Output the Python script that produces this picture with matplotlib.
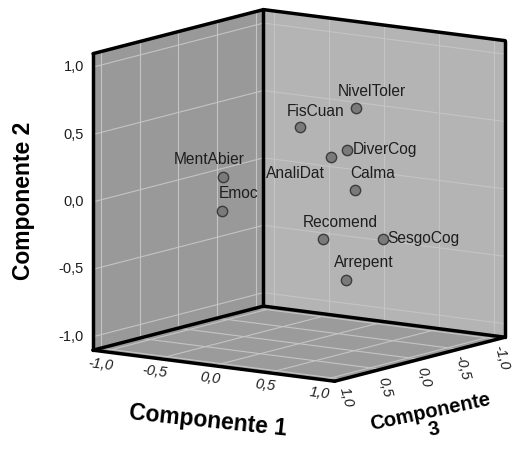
import matplotlib
matplotlib.use("Agg")
import matplotlib.pyplot as plt
import numpy as np
from mpl_toolkits.mplot3d import proj3d
from mpl_toolkits.mplot3d.art3d import Poly3DCollection

plt.rcParams['font.family'] = ['Liberation Sans', 'DejaVu Sans']

# component loadings (C3 estimated)
labels = ["NivelToler", "FisCuan", "DiverCog", "AnaliDat", "Calma",
          "Recomend", "SesgoCog", "Arrepent", "MentAbier", "Emoc"]
comp1 = [0.45, 0.08, 0.58, 0.50, 0.37, 0.29, 0.55, 0.43, -0.16, -0.21]
comp2 = [0.68, 0.53, 0.43, 0.38, 0.05, -0.28, -0.31, -0.58, 0.23, -0.03]
comp3 = [-0.10, 0.10, 0.20, 0.30, -0.20, 0.10, -0.30, 0.00, 0.75, 0.70]
ticks = [-1.0, -0.5, 0.0, 0.5, 1.0]
tick_text = ["-1,0", "-0,5", "0,0", "0,5", "1,0"]

# label placement (pixel offsets, alignment)
lab_pos = {"NivelToler": (16, 17, 'center'), "FisCuan": (16, 16, 'center'),
           "DiverCog": (5, 0, 'left'), "AnaliDat": (-6, -16, 'right'),
           "Calma": (17, 16, 'center'), "Recomend": (17, 17, 'center'),
           "SesgoCog": (5, 0, 'left'), "Arrepent": (17, 17, 'center'),
           "MentAbier": (-14, 18, 'center'), "Emoc": (17, 17, 'center')}

L = 1.1
fig = plt.figure(figsize=(5.13, 4.55), dpi=100)
ax = fig.add_axes([0.071, 0.057, 1.0, 1.0], projection='3d', proj_type='ortho')
ax.set_xlim(-L, L)
ax.set_ylim(-L, L)
ax.set_zlim(-L, L)
ax.view_init(elev=10.5, azim=35.2)
ax.set_box_aspect((1, 1, 1.02), zoom=1.1)
ax.set_axis_off()
ax.computed_zorder = False

# x = Componente 3, y = Componente 1, z = Componente 2
walls = [
    [(L, -L, -L), (-L, -L, -L), (-L, -L, L), (L, -L, L)],      # left wall (C1 = -1.1)
    [(-L, -L, -L), (-L, L, -L), (-L, L, L), (-L, -L, L)],      # right wall (C3 = -1.1)
    [(L, -L, -L), (L, L, -L), (-L, L, -L), (-L, -L, -L)],      # floor
]
wall_cols = ['#999999', '#b4b4b4', '#9b9b9b']
for w, c in zip(walls, wall_cols):
    pc = Poly3DCollection([w], facecolor=c, edgecolor='none', zorder=0)
    ax.add_collection3d(pc)

gc = '#c4c4c4'
for t in ticks:
    # left wall
    ax.plot([t, t], [-L, -L], [-L, L], color=gc, lw=0.8, zorder=1)
    ax.plot([L, -L], [-L, -L], [t, t], color=gc, lw=0.8, zorder=1)
    # right wall
    ax.plot([-L, -L], [t, t], [-L, L], color=gc, lw=0.8, zorder=1)
    ax.plot([-L, -L], [-L, L], [t, t], color=gc, lw=0.8, zorder=1)
    # floor
    ax.plot([t, t], [-L, L], [-L, -L], color=gc, lw=0.8, zorder=1)
    ax.plot([L, -L], [t, t], [-L, -L], color=gc, lw=0.8, zorder=1)

edges = [
    ([L, L], [-L, -L], [-L, L]), ([-L, -L], [-L, -L], [-L, L]), ([-L, -L], [L, L], [-L, L]),
    ([L, -L], [-L, -L], [L, L]), ([-L, -L], [-L, L], [L, L]),
    ([L, -L], [-L, -L], [-L, -L]), ([-L, -L], [-L, L], [-L, -L]),
    ([L, L], [-L, L], [-L, -L]), ([L, -L], [L, L], [-L, -L]),
]
for xs, ys, zs in edges:
    ax.plot(xs, ys, zs, color='black', lw=2.5, solid_capstyle='round', zorder=2)

ax.scatter(comp3, comp1, comp2, s=55, c='#7a7a7a', edgecolors='#3c3c3c',
           linewidths=1.0, depthshade=False, zorder=3)

M = ax.get_proj()


def put(x, y, z, s, dx, dy, **kw):
    px, py, _ = proj3d.proj_transform(x, y, z, M)
    ax.annotate(s, (px, py), xytext=(dx, dy), textcoords='offset pixels', **kw)


for name, c1, c2, c3 in zip(labels, comp1, comp2, comp3):
    dx, dy, ha = lab_pos[name]
    put(c3, c1, c2, name, dx, dy, ha=ha, va='center', fontsize=11.2,
        color='#1e1e1e', zorder=4)

for t, s in zip(ticks, tick_text):
    put(L, -L, t, s, -9, 0, ha='right', va='center', fontsize=10.5, color='#1e1e1e')
    put(L, t, -L, s, -4, -13, ha='center', va='center', fontsize=10.5,
        style='italic', rotation=-7, color='#1e1e1e')
    put(t, L, -L, s, 4, -18, ha='center', va='center', fontsize=10.5,
        style='italic', rotation=-75, color='#1e1e1e')

fig.text(24 / 513, 1 - 201 / 455, "Componente 2", rotation=90, ha='center',
         va='center', fontsize=16.5, fontweight='bold')
fig.text(208 / 513, 1 - 421 / 455, "Componente 1", rotation=-6, ha='center',
         va='center', fontsize=16.5, fontweight='bold')
fig.text(432 / 513, 1 - 421 / 455, "Componente\n3", rotation=12, ha='center',
         va='center', fontsize=14.5, fontweight='bold', linespacing=0.95,
         multialignment='center')

fig.savefig("out.png", dpi=100)
